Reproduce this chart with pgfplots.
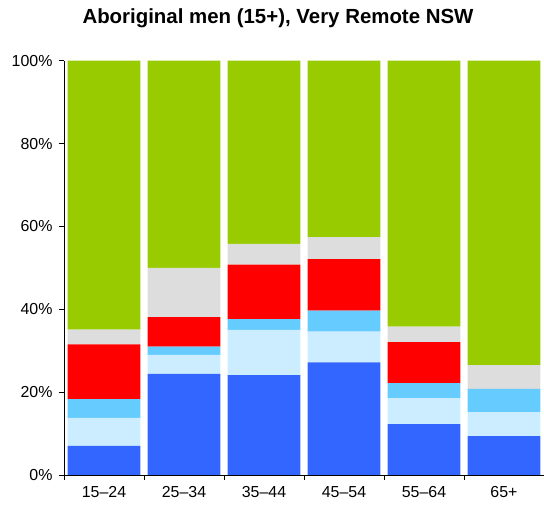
\documentclass[border=0pt]{standalone}
\usepackage{fontspec}
\setmainfont{Liberation Sans}
\usepackage{pgfplots}
\pgfplotsset{compat=1.18}
\definecolor{cBlue}{HTML}{3366FF}
\definecolor{cLight}{HTML}{CCECFF}
\definecolor{cSky}{HTML}{66CCFF}
\definecolor{cRed}{HTML}{FF0000}
\definecolor{cGrey}{HTML}{DDDDDD}
\definecolor{cGreen}{HTML}{99CC00}
\begin{document}
\begin{tikzpicture}
\begin{axis}[
  scale only axis,
  width=480bp, height=414.3bp,
  ybar stacked,
  bar width=0.91,
  xmin=-0.5, xmax=5.5,
  ymin=0, ymax=100,
  axis x line*=bottom, axis y line*=left,
  axis line style={black, line width=0.8pt},
  xtick={0,1,2,3,4,5},
  xticklabels={15–24,25–34,35–44,45–54,55–64,65+},
  major x tick style={draw=none},
  minor xtick={-0.5,0.5,1.5,2.5,3.5,4.5},
  minor x tick style={black, line width=0.6pt},
  minor tick length=5bp,
  ytick={0,20,40,60,80,100},
  yticklabels={0\%,20\%,40\%,60\%,80\%,100\%},
  y tick style={black, line width=0.6pt},
  major tick length=5bp,
  tick align=outside,
  ticklabel style={font=\fontsize{16}{18}\selectfont},
  yticklabel style={xshift=-3bp},
  xticklabel style={yshift=-3bp},
]
\addplot[fill=cBlue, draw=none] coordinates {(0,7.0) (1,24.4) (2,24.1) (3,27.2) (4,12.3) (5,9.4)};
\addplot[fill=cLight, draw=none] coordinates {(0,6.8) (1,4.6) (2,10.9) (3,7.4) (4,6.2) (5,5.7)};
\addplot[fill=cSky, draw=none] coordinates {(0,4.5) (1,2.0) (2,2.6) (3,5.1) (4,3.7) (5,5.7)};
\addplot[fill=cRed, draw=none] coordinates {(0,13.2) (1,7.1) (2,13.2) (3,12.4) (4,9.9) (5,0)};
\addplot[fill=cGrey, draw=none] coordinates {(0,3.6) (1,11.9) (2,5.0) (3,5.3) (4,3.7) (5,5.7)};
\addplot[fill=cGreen, draw=none] coordinates {(0,64.9) (1,50.0) (2,44.2) (3,42.6) (4,64.2) (5,73.5)};
\end{axis}
\node[font=\fontsize{20.5}{24}\selectfont\bfseries] at (214bp,457bp) {Aboriginal men (15+), Very Remote NSW};
\pgfresetboundingbox
\path[use as bounding box] (-64bp,-31bp) rectangle (480bp,475bp);
\end{tikzpicture}
\end{document}
